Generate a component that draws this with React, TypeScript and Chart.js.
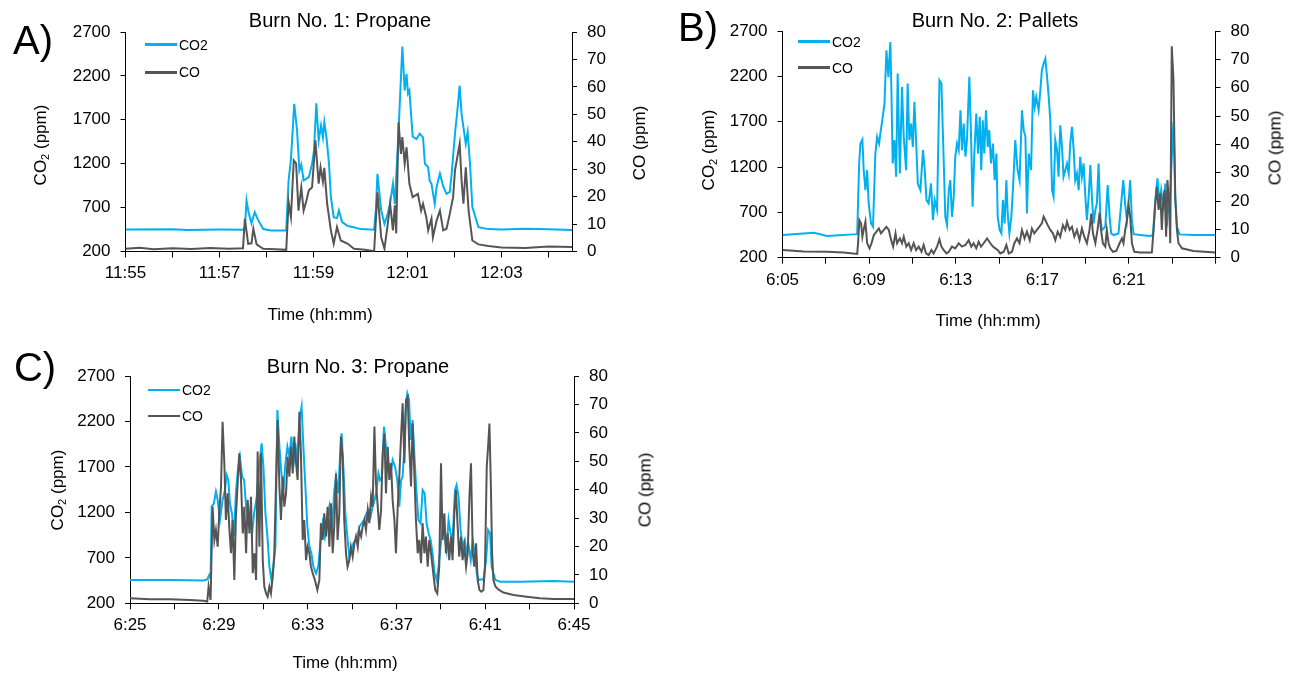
import React, { useEffect, useRef } from "react";
import { Chart, registerables } from "chart.js";
Chart.register(...registerables);

const CO2_COLOR = "#00B0F0";
const CO_COLOR = "#555555";
const FONT = "'Liberation Sans', Arial, sans-serif";

// ---------- Panel A: Burn No. 1 (minutes after 11:55) ----------
const aXLabels = ["11:55", "11:57", "11:59", "12:01", "12:03"];
const aCo2Time = [0, 1.0, 1.3, 2.0, 2.5, 2.54, 2.575, 2.62, 2.68, 2.75, 2.82, 2.93, 3.1, 3.42, 3.47, 3.52, 3.59, 3.65, 3.7, 3.74, 3.79, 3.85, 3.9, 3.97, 4.01, 4.06, 4.11, 4.16, 4.2, 4.23, 4.28, 4.33, 4.37, 4.43, 4.5, 4.54, 4.61, 4.73, 4.86, 5.0, 5.29, 5.33, 5.36, 5.44, 5.51, 5.58, 5.63, 5.69, 5.73, 5.81, 5.89, 5.94, 5.98, 6.01, 6.04, 6.11, 6.19, 6.26, 6.33, 6.37, 6.44, 6.47, 6.51, 6.58, 6.62, 6.69, 6.76, 6.83, 6.9, 6.94, 7.01, 7.06, 7.11, 7.15, 7.24, 7.28, 7.33, 7.38, 7.51, 7.72, 8.0, 8.5, 9.0, 9.5];
const aCo2 = [450, 452, 445, 450, 448, 470, 781, 640, 522, 648, 560, 455, 440, 440, 1009, 1250, 1882, 1578, 1122, 1190, 1009, 1030, 1047, 1199, 1350, 1889, 1464, 1635, 1500, 1673, 1480, 1199, 818, 590, 580, 667, 534, 490, 477, 455, 447, 700, 1085, 667, 515, 630, 750, 971, 740, 1578, 2535, 2034, 2224, 2000, 2034, 1510, 1480, 1541, 1500, 1199, 1160, 1009, 970, 743, 940, 1085, 940, 857, 880, 1085, 1541, 1800, 2091, 1768, 1427, 1559, 1199, 705, 477, 455, 450, 458, 452, 445];
const aCoTime = [0, 0.3, 0.6, 1.0, 1.4, 1.8, 2.2, 2.5, 2.54, 2.61, 2.68, 2.72, 2.79, 2.93, 3.2, 3.42, 3.47, 3.52, 3.58, 3.63, 3.68, 3.74, 3.79, 3.85, 3.9, 3.97, 4.04, 4.11, 4.15, 4.2, 4.23, 4.29, 4.37, 4.43, 4.5, 4.58, 4.73, 4.86, 5.1, 5.29, 5.36, 5.44, 5.51, 5.58, 5.63, 5.69, 5.73, 5.76, 5.81, 5.86, 5.89, 5.94, 5.98, 6.04, 6.11, 6.22, 6.29, 6.33, 6.4, 6.44, 6.51, 6.54, 6.62, 6.69, 6.76, 6.83, 6.9, 6.97, 7.01, 7.11, 7.15, 7.19, 7.24, 7.3, 7.38, 7.51, 7.72, 8.0, 8.5, 9.0, 9.5];
const aCo = [1.0, 1.4, 0.8, 1.2, 0.9, 1.3, 1.0, 1.2, 11.9, 2.8, 3.0, 8.3, 2.6, 1.0, 0.8, 0.6, 18, 12.5, 33.2, 32, 14.9, 23.4, 14.9, 18.6, 22.2, 23.4, 40.5, 24.7, 30.7, 25.5, 30.5, 17.4, 7.7, 2.8, 8.9, 4.0, 2.8, 1.0, 0.6, 0.1, 21.6, 5.2, 1.0, 10.1, 17.4, 7.7, 16.8, 6.6, 47.1, 35.6, 41.7, 32, 38, 24.7, 19.8, 21, 14.9, 17.4, 12.5, 7.7, 12, 5.2, 11.3, 14.9, 7.7, 8.3, 13.7, 19.8, 29.5, 39.3, 26, 17.4, 30.7, 14.9, 4.0, 2.6, 2.0, 1.5, 1.3, 1.8, 1.6];

// ---------- Panel B: Burn No. 2 (minutes after 6:05) ----------
const bXLabels = ["6:05", "6:09", "6:13", "6:17", "6:21"];
const bCo2Time = [0, 1.45, 2.06, 3.45, 3.54, 3.6, 3.69, 3.75, 3.83, 3.91, 3.98, 4.09, 4.18, 4.29, 4.37, 4.46, 4.52, 4.63, 4.71, 4.8, 4.89, 4.98, 5.03, 5.09, 5.17, 5.25, 5.32, 5.42, 5.52, 5.6, 5.71, 5.78, 5.86, 5.94, 6.02, 6.09, 6.17, 6.25, 6.37, 6.49, 6.57, 6.65, 6.75, 6.86, 6.95, 7.03, 7.14, 7.25, 7.34, 7.45, 7.52, 7.6, 7.68, 7.75, 7.83, 7.91, 7.98, 8.06, 8.14, 8.22, 8.29, 8.37, 8.45, 8.52, 8.63, 8.71, 8.78, 8.86, 8.95, 9.03, 9.11, 9.18, 9.25, 9.32, 9.4, 9.48, 9.55, 9.63, 9.72, 9.8, 9.88, 9.94, 10.03, 10.11, 10.18, 10.26, 10.34, 10.4, 10.48, 10.57, 10.65, 10.75, 10.86, 10.95, 11.06, 11.14, 11.22, 11.29, 11.37, 11.48, 11.57, 11.65, 11.72, 11.83, 11.91, 11.98, 12.06, 12.14, 12.22, 12.29, 12.37, 12.45, 12.52, 12.6, 12.68, 12.75, 12.83, 12.91, 12.98, 13.06, 13.14, 13.22, 13.29, 13.37, 13.45, 13.52, 13.6, 13.68, 13.75, 13.83, 13.91, 13.98, 14.06, 14.14, 14.22, 14.29, 14.37, 14.45, 14.52, 14.6, 14.68, 14.75, 14.91, 15.02, 15.11, 15.18, 15.29, 15.52, 15.74, 15.83, 15.91, 15.98, 16.06, 16.14, 16.22, 16.52, 16.98, 17.11, 17.22, 17.32, 17.42, 17.49, 17.6, 17.68, 17.75, 17.83, 17.91, 17.98, 18.06, 18.14, 18.22, 18.34, 18.98, 20.0];
const bCo2 = [450, 475, 440, 460, 1239, 1459, 1503, 1165, 945, 1165, 798, 578, 541, 1349, 1533, 1459, 1569, 1753, 1900, 2487, 2194, 2579, 2046, 1239, 1496, 1092, 2230, 1129, 2083, 1533, 1165, 2120, 1496, 1679, 1422, 1918, 1496, 1019, 945, 1386, 1165, 835, 798, 1019, 615, 835, 725, 2157, 2120, 1239, 651, 560, 945, 1055, 651, 872, 1313, 1459, 1386, 1826, 1386, 1679, 1313, 1496, 2194, 1533, 762, 1349, 1790, 1349, 1753, 1165, 1716, 1349, 1826, 1422, 1606, 1239, 1459, 1055, 1349, 651, 505, 468, 835, 578, 1055, 688, 468, 651, 982, 1496, 1165, 1055, 1826, 1606, 1533, 688, 1349, 1165, 2046, 1863, 1973, 1826, 2046, 2267, 2340, 2395, 2194, 1991, 1716, 945, 872, 1496, 1386, 1092, 1661, 1422, 1092, 1165, 1239, 1129, 1459, 1643, 1386, 1055, 1129, 945, 1313, 1092, 1239, 908, 615, 872, 1221, 872, 578, 725, 798, 1239, 651, 505, 541, 1000, 651, 468, 450, 468, 1055, 780, 615, 800, 1055, 600, 460, 450, 440, 450, 835, 1074, 798, 945, 725, 1019, 541, 798, 900, 1300, 1700, 872, 541, 457, 450, 450];
const bCoTime = [0, 0.98, 2.06, 2.83, 3.45, 3.49, 3.55, 3.63, 3.69, 3.75, 3.83, 3.91, 4.02, 4.11, 4.22, 4.34, 4.45, 4.55, 4.68, 4.8, 4.91, 5.02, 5.11, 5.22, 5.29, 5.42, 5.52, 5.6, 5.72, 5.83, 5.94, 6.06, 6.17, 6.29, 6.42, 6.52, 6.63, 6.75, 6.88, 6.98, 7.14, 7.25, 7.34, 7.45, 7.57, 7.68, 7.83, 7.98, 8.14, 8.29, 8.45, 8.6, 8.72, 8.83, 8.95, 9.06, 9.17, 9.29, 9.45, 9.6, 9.72, 9.83, 9.94, 10.06, 10.22, 10.34, 10.45, 10.6, 10.71, 10.83, 10.95, 11.06, 11.18, 11.29, 11.42, 11.52, 11.63, 11.75, 11.86, 11.98, 12.06, 12.14, 12.25, 12.37, 12.49, 12.6, 12.71, 12.83, 12.95, 13.06, 13.14, 13.26, 13.37, 13.48, 13.6, 13.72, 13.83, 13.94, 14.06, 14.18, 14.26, 14.34, 14.45, 14.55, 14.65, 14.71, 14.8, 14.91, 14.98, 15.06, 15.14, 15.26, 15.42, 15.57, 15.68, 15.75, 15.83, 15.91, 15.98, 16.06, 16.14, 16.25, 16.52, 17.06, 17.14, 17.22, 17.29, 17.37, 17.45, 17.52, 17.6, 17.65, 17.72, 17.78, 17.86, 17.91, 17.98, 18.06, 18.14, 18.22, 18.29, 18.45, 18.98, 20.0];
const bCo = [2.7, 2.2, 2.1, 1.8, 1.3, 5.1, 13.3, 12.1, 7.4, 9.8, 12.7, 5.1, 3.3, 5.1, 8.0, 9.2, 10.3, 8.6, 9.8, 10.9, 9.8, 6.2, 3.9, 8.6, 5.1, 6.8, 5.1, 7.4, 3.9, 5.1, 2.7, 5.1, 2.7, 3.9, 2.1, 4.5, 1.5, 0.9, 2.7, 1.5, 3.9, 6.5, 3.9, 2.7, 1.5, 2.1, 3.9, 3.3, 5.1, 3.9, 4.5, 6.2, 3.9, 5.1, 3.3, 5.6, 3.9, 5.1, 6.8, 5.1, 3.9, 3.3, 2.7, 1.5, 2.1, 4.5, 1.5, 2.1, 5.1, 6.8, 5.1, 9.8, 6.8, 9.2, 6.2, 10.3, 8.6, 9.8, 10.9, 12.1, 14.5, 13.3, 11.5, 9.8, 8.6, 6.2, 9.2, 7.4, 11.5, 9.8, 12.7, 9.8, 10.9, 7.4, 9.8, 6.2, 10.3, 7.4, 5.1, 9.8, 15.6, 8.6, 5.1, 9.8, 15.9, 9.8, 5.1, 3.9, 9.8, 5.1, 3.3, 2.1, 2.4, 5.1, 6.8, 5.1, 9.8, 13.3, 18.6, 14.5, 5.1, 2.1, 1.8, 1.8, 9.8, 19.2, 25.0, 16.9, 22.7, 9.8, 21.5, 23.9, 7.4, 27.4, 19.2, 5.1, 74.6, 62.6, 21.3, 9.8, 5.1, 3.3, 2.4, 1.8];

// ---------- Panel C: Burn No. 3 (minutes after 6:25) ----------
const cXLabels = ["6:25", "6:29", "6:33", "6:37", "6:41", "6:45"];
const cCo2Time = [0, 1.8, 3.3, 3.48, 3.57, 3.63, 3.68, 3.78, 3.87, 3.95, 4.05, 4.17, 4.28, 4.35, 4.43, 4.5, 4.59, 4.68, 4.77, 4.86, 4.95, 5.05, 5.14, 5.23, 5.32, 5.41, 5.5, 5.59, 5.71, 5.83, 5.93, 6.01, 6.1, 6.19, 6.28, 6.37, 6.46, 6.55, 6.64, 6.73, 6.82, 6.91, 7.0, 7.09, 7.18, 7.27, 7.36, 7.45, 7.54, 7.63, 7.73, 7.81, 7.9, 7.99, 8.08, 8.17, 8.26, 8.38, 8.48, 8.59, 8.68, 8.78, 8.89, 8.98, 9.1, 9.19, 9.28, 9.38, 9.46, 9.53, 9.61, 9.7, 9.79, 9.88, 9.97, 10.06, 10.15, 10.24, 10.33, 10.44, 10.54, 10.66, 10.75, 10.84, 10.93, 11.02, 11.11, 11.19, 11.26, 11.35, 11.44, 11.53, 11.64, 11.74, 11.83, 11.94, 12.04, 12.13, 12.21, 12.28, 12.36, 12.43, 12.49, 12.57, 12.64, 12.73, 12.79, 12.88, 12.99, 13.09, 13.18, 13.27, 13.36, 13.45, 13.54, 13.63, 13.72, 13.81, 13.9, 13.99, 14.08, 14.17, 14.26, 14.35, 14.44, 14.53, 14.64, 14.71, 14.8, 14.89, 14.98, 15.08, 15.17, 15.26, 15.35, 15.44, 15.53, 15.62, 15.71, 15.83, 15.92, 16.04, 16.13, 16.22, 16.29, 16.37, 16.46, 16.67, 17.57, 19.07, 20.0];
const cCo2 = [457, 455, 450, 462, 512, 470, 1263, 1300, 1428, 1336, 1117, 1336, 1446, 1611, 1556, 1300, 1190, 933, 1410, 1666, 1813, 1593, 1556, 1263, 1117, 1153, 970, 1190, 1373, 1740, 1960, 1703, 1190, 933, 603, 457, 603, 823, 2326, 1923, 1630, 1446, 1740, 1923, 1813, 2033, 1703, 1960, 1740, 2216, 2363, 1923, 1483, 1043, 823, 750, 603, 530, 603, 897, 1080, 933, 1117, 1263, 1007, 1410, 1593, 1410, 1813, 2070, 1703, 1190, 933, 713, 787, 860, 897, 933, 1043, 1080, 1117, 1190, 1226, 1153, 1263, 1336, 1446, 1630, 1556, 1593, 2143, 1923, 1740, 1630, 1776, 1703, 1556, 1263, 1556, 1593, 1923, 2400, 2510, 2436, 1996, 2216, 1923, 1520, 1117, 1080, 1446, 1410, 1080, 970, 897, 750, 530, 457, 603, 823, 1043, 933, 787, 1117, 970, 897, 1446, 1501, 1373, 1007, 823, 897, 750, 823, 677, 897, 750, 530, 457, 464, 457, 677, 1007, 970, 603, 530, 457, 438, 438, 445, 438];
const cCoTime = [0, 0.9, 1.8, 2.7, 3.3, 3.48, 3.54, 3.63, 3.72, 3.8, 3.87, 3.95, 4.02, 4.1, 4.17, 4.25, 4.32, 4.4, 4.47, 4.55, 4.62, 4.7, 4.77, 4.85, 4.92, 5.0, 5.08, 5.15, 5.23, 5.3, 5.38, 5.45, 5.53, 5.6, 5.68, 5.75, 5.83, 5.9, 5.98, 6.05, 6.13, 6.2, 6.28, 6.35, 6.43, 6.5, 6.58, 6.65, 6.73, 6.8, 6.88, 6.95, 7.03, 7.1, 7.18, 7.25, 7.33, 7.4, 7.48, 7.55, 7.63, 7.7, 7.78, 7.85, 7.93, 8.0, 8.08, 8.15, 8.23, 8.33, 8.44, 8.53, 8.6, 8.68, 8.75, 8.83, 8.9, 8.98, 9.05, 9.13, 9.2, 9.28, 9.35, 9.43, 9.5, 9.58, 9.65, 9.73, 9.8, 9.88, 9.95, 10.03, 10.11, 10.18, 10.26, 10.33, 10.41, 10.48, 10.56, 10.63, 10.71, 10.78, 10.86, 10.93, 11.01, 11.08, 11.16, 11.23, 11.31, 11.38, 11.46, 11.53, 11.61, 11.68, 11.76, 11.83, 11.91, 11.98, 12.06, 12.13, 12.21, 12.28, 12.36, 12.43, 12.51, 12.58, 12.66, 12.73, 12.81, 12.88, 12.96, 13.03, 13.11, 13.18, 13.26, 13.33, 13.41, 13.48, 13.56, 13.66, 13.75, 13.84, 13.93, 14.01, 14.08, 14.16, 14.23, 14.31, 14.38, 14.46, 14.53, 14.61, 14.68, 14.76, 14.83, 14.91, 14.98, 15.06, 15.14, 15.21, 15.29, 15.36, 15.44, 15.51, 15.59, 15.66, 15.74, 15.83, 15.92, 15.99, 16.07, 16.14, 16.19, 16.25, 16.31, 16.37, 16.46, 16.59, 16.82, 17.27, 17.87, 18.47, 19.07, 20.0];
const cCo = [1.8, 1.4, 1.4, 1.2, 0.9, 0.6, 5.9, 1.2, 34.0, 22.3, 25.8, 19.9, 31.7, 41.1, 63.9, 49.3, 29.3, 38.7, 27.0, 17.6, 29.3, 8.2, 30.5, 42.2, 52.8, 43.4, 24.6, 34.0, 17.6, 36.4, 24.6, 37.5, 10.6, 17.6, 8.2, 53.4, 19.9, 52.8, 15.2, 5.9, 3.5, 2.3, 5.9, 3.5, 9.4, 17.6, 43.4, 64.5, 41.1, 29.3, 44.6, 34.0, 38.7, 51.6, 44.6, 55.1, 45.7, 58.7, 49.3, 43.4, 67.4, 52.8, 22.3, 29.3, 15.2, 19.9, 17.6, 12.9, 10.6, 8.2, 4.7, 8.2, 28.2, 22.3, 31.7, 23.5, 34.0, 19.9, 35.2, 17.6, 27.0, 45.7, 22.3, 31.7, 58.7, 51.6, 29.3, 17.6, 12.9, 15.2, 19.9, 16.4, 21.1, 23.5, 19.9, 25.8, 23.5, 27.0, 29.3, 25.8, 32.8, 28.2, 37.5, 34.0, 62.2, 42.2, 34.0, 25.8, 32.8, 52.8, 59.8, 38.7, 55.1, 43.4, 49.3, 36.4, 29.3, 17.6, 34.0, 44.6, 58.7, 70.4, 49.3, 71.5, 72.7, 55.1, 41.1, 63.3, 45.7, 29.3, 17.6, 22.3, 14.1, 28.2, 17.6, 23.5, 12.9, 22.3, 17.6, 10.6, 4.7, 3.5, 12.9, 49.3, 22.3, 31.7, 17.6, 24.6, 15.2, 23.5, 15.2, 31.7, 39.9, 27.0, 16.4, 23.5, 15.2, 19.9, 12.9, 17.6, 37.5, 49.3, 17.6, 12.9, 21.1, 8.2, 4.7, 4.1, 4.7, 12.9, 48.1, 56.3, 63.3, 43.4, 17.6, 8.2, 5.9, 4.9, 3.8, 2.9, 2.3, 1.8, 1.5, 1.5];

type PanelCfg = {
  left: number; top: number; width: number; height: number;
  plotLeft: number; plotRight: number; plotTop: number; plotBottom: number;
  xMax: number; xStep: number; labelEvery: number; xLabels: string[];
  co2T: number[]; co2: number[]; coT: number[]; co: number[];
};

const TICK_FONT = { family: FONT, size: 17 };

function Panel({ cfg }: { cfg: PanelCfg }) {
  const ref = useRef<HTMLCanvasElement | null>(null);
  useEffect(() => {
    const c = cfg;
    const grid = { display: true, drawOnChartArea: false, drawTicks: true, color: "#000", lineWidth: 1 };
    const border = { display: true, color: "#000", width: 1 };
    const plain = (v: any) => String(v);
    const chart = new Chart(ref.current as HTMLCanvasElement, {
      type: "line",
      data: {
        datasets: [
          { label: "CO", data: c.coT.map((t, i) => ({ x: t, y: c.co[i] })), yAxisID: "yR", borderColor: CO_COLOR, borderWidth: 2, pointRadius: 0, tension: 0, fill: false },
          { label: "CO2", data: c.co2T.map((t, i) => ({ x: t, y: c.co2[i] })), yAxisID: "yL", borderColor: CO2_COLOR, borderWidth: 2, pointRadius: 0, tension: 0, fill: false },
        ],
      },
      options: {
        responsive: false,
        animation: false,
        events: [],
        layout: { padding: { top: c.plotTop, left: 0, right: 0, bottom: 0 } },
        plugins: { legend: { display: false }, tooltip: { enabled: false }, title: { display: false } },
        scales: {
          x: {
            type: "linear", min: 0, max: c.xMax,
            afterFit: (s: any) => { s.height = c.height - c.plotBottom; },
            ticks: {
              stepSize: c.xStep, includeBounds: false, autoSkip: false, maxRotation: 0, minRotation: 0,
              padding: 6, color: "#000", font: TICK_FONT,
              callback: (v: any) => {
                const n = Math.round(v / c.labelEvery);
                return Math.abs(v - n * c.labelEvery) < 1e-6 ? (c.xLabels[n] ?? "") : "";
              },
            },
            grid: { ...grid, tickLength: 6 }, border,
          },
          yL: {
            type: "linear", position: "left", min: 200, max: 2700,
            afterFit: (s: any) => { s.width = c.plotLeft; },
            ticks: { stepSize: 500, autoSkip: false, padding: 10, color: "#000", font: TICK_FONT, callback: plain },
            grid: { ...grid, tickLength: 5 }, border,
          },
          yR: {
            type: "linear", position: "right", min: 0, max: 80,
            afterFit: (s: any) => { s.width = c.width - c.plotRight; },
            ticks: { stepSize: 10, autoSkip: false, padding: 10, color: "#000", font: TICK_FONT, callback: plain },
            grid: { ...grid, tickLength: 5 }, border,
          },
        },
      } as any,
    });
    return () => chart.destroy();
  }, [cfg]);
  return (
    <canvas ref={ref} width={cfg.width} height={cfg.height}
      style={{ position: "absolute", left: cfg.left, top: cfg.top, width: cfg.width, height: cfg.height }} />
  );
}

const txt = (x: number, y: number, size: number, content: React.ReactNode, rotate = false) => (
  <div style={{
    position: "absolute", left: x, top: y, fontFamily: FONT, fontSize: size, lineHeight: 1, color: "#000",
    whiteSpace: "nowrap",
    transform: `translate(-50%, -50%)${rotate ? " rotate(-90deg)" : ""}`,
  }}>{content}</div>
);

const co2Label = <span>CO<span style={{ fontSize: "0.65em", position: "relative", top: "0.3em" }}>2</span> (ppm)</span>;

function Legend({ x, y1, y2 }: { x: number; y1: number; y2: number }) {
  const item = (y: number, color: string, label: string) => (
    <div style={{ position: "absolute", left: x, top: y, transform: "translate(0,-50%)", display: "flex", alignItems: "center", fontFamily: FONT, fontSize: 14, lineHeight: 1, color: "#000" }}>
      <span style={{ display: "inline-block", width: 32, height: 2.5, background: color, marginRight: 2 }} />
      <span>{label}</span>
    </div>
  );
  return <>{item(y1, CO2_COLOR, "CO2")}{item(y2, CO_COLOR, "CO")}</>;
}

const panelA: PanelCfg = {
  left: 0, top: 0, width: 650, height: 330,
  plotLeft: 125.5, plotRight: 572, plotTop: 32, plotBottom: 251.5,
  xMax: 9.5, xStep: 1, labelEvery: 2, xLabels: aXLabels,
  co2T: aCo2Time, co2: aCo2, coT: aCoTime, co: aCo,
};
const panelB: PanelCfg = {
  left: 660, top: 0, width: 633, height: 330,
  plotLeft: 122.5, plotRight: 555.5, plotTop: 31, plotBottom: 257.7,
  xMax: 20, xStep: 2, labelEvery: 4, xLabels: bXLabels,
  co2T: bCo2Time, co2: bCo2, coT: bCoTime, co: bCo,
};
const panelC: PanelCfg = {
  left: 0, top: 340, width: 650, height: 333,
  plotLeft: 130, plotRight: 574, plotTop: 36, plotBottom: 263.3,
  xMax: 20, xStep: 2, labelEvery: 4, xLabels: cXLabels,
  co2T: cCo2Time, co2: cCo2, coT: cCoTime, co: cCo,
};

export default function App() {
  return (
    <div style={{ position: "absolute", left: 0, top: 0, width: 1293, height: 673, background: "#fff", overflow: "hidden" }}>
      <Panel cfg={panelA} />
      <Panel cfg={panelB} />
      <Panel cfg={panelC} />

      {txt(33, 40, 40, "A)")}
      {txt(698, 27, 40, "B)")}
      {txt(35, 367, 40, "C)")}

      {txt(340, 20, 20, "Burn No. 1: Propane")}
      {txt(995, 20, 20, "Burn No. 2: Pallets")}
      {txt(358, 366, 20, "Burn No. 3: Propane")}

      {txt(320, 314, 17, "Time (hh:mm)")}
      {txt(988, 320, 17, "Time (hh:mm)")}
      {txt(345, 662, 17, "Time (hh:mm)")}

      {txt(40, 145, 17, co2Label, true)}
      {txt(639, 143, 17, "CO (ppm)", true)}
      {txt(708, 150, 17, co2Label, true)}
      {txt(1275, 148, 17, "CO (ppm)", true)}
      {txt(57, 490, 17, co2Label, true)}
      {txt(645, 490, 17, "CO (ppm)", true)}

      <Legend x={145} y1={44.7} y2={72.3} />
      <Legend x={798} y1={41.7} y2={67.7} />
      <Legend x={148} y1={390} y2={416} />
    </div>
  );
}
